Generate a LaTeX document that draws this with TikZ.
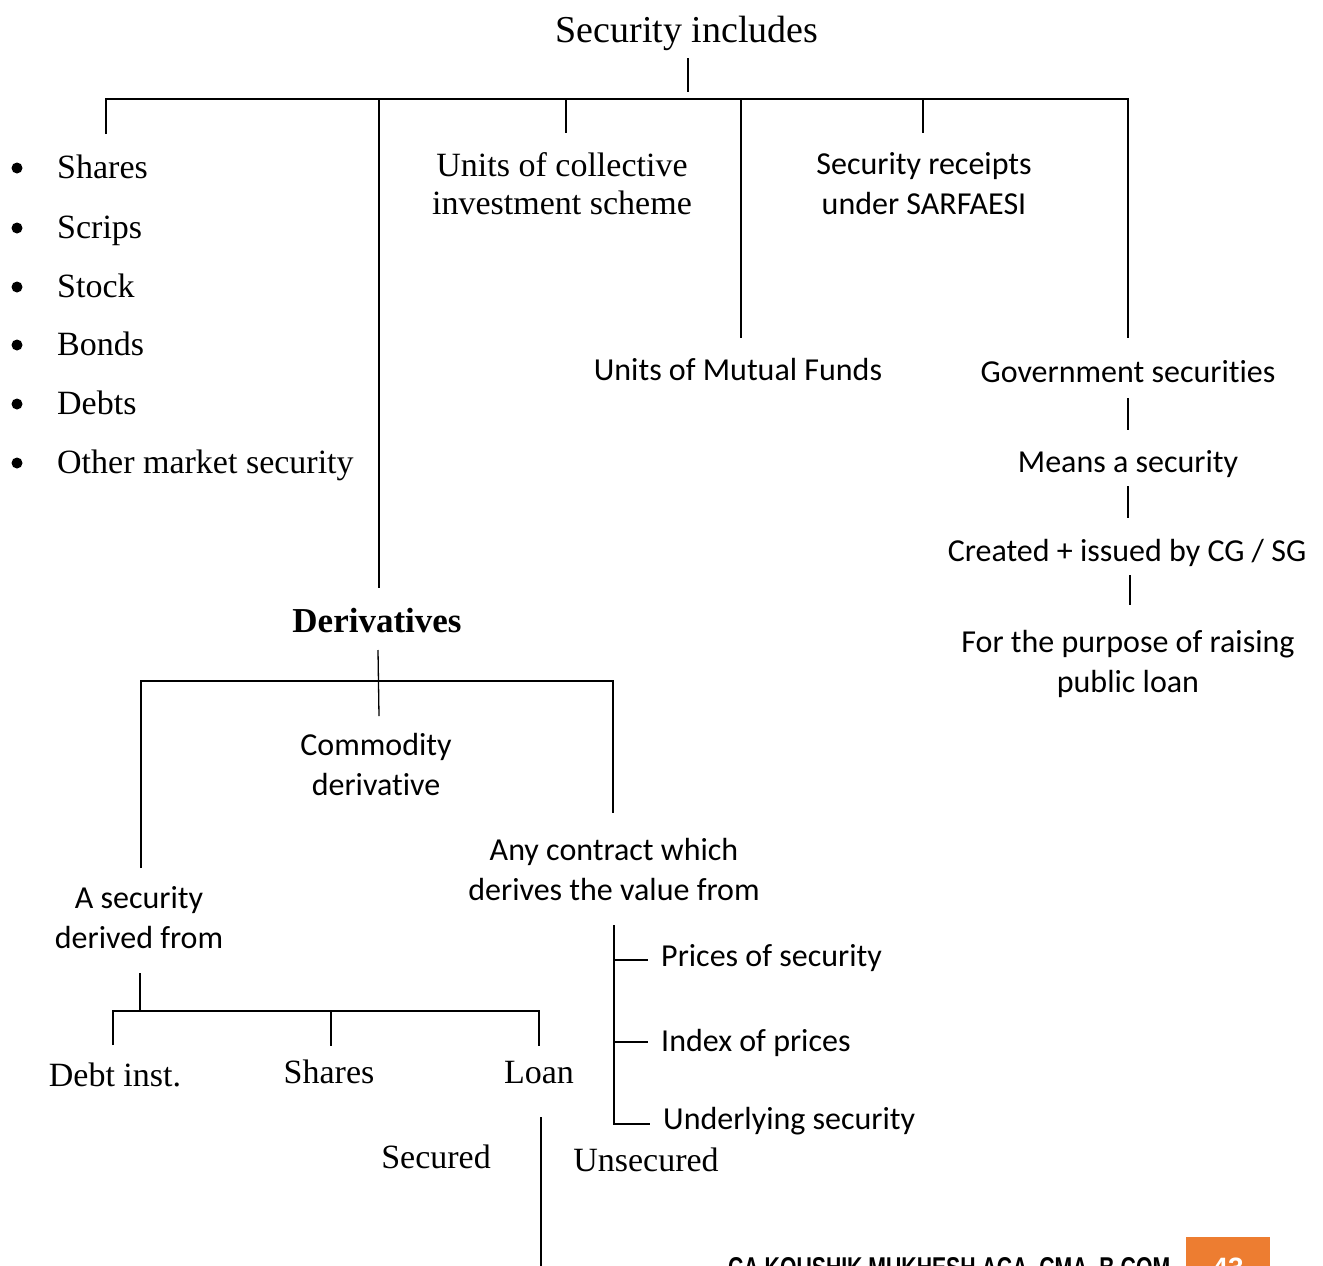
\documentclass[tikz,border=0pt]{standalone}
\usepackage{fontspec}
\usepackage{graphicx}
\setmainfont{Liberation Serif}
\newfontfamily\labelsans[Ligatures={NoCommon}]{Carlito}
\newfontfamily\footsans{Liberation Sans}
\definecolor{pageorange}{HTML}{ED7D31}

\begin{document}
\begin{tikzpicture}[x=1pt,y=-1pt,
  serifnode/.style={font=\fontsize{34}{38}\selectfont, inner sep=0pt, align=center},
  titlenode/.style={font=\fontsize{38}{44}\selectfont, inner sep=0pt},
  headnode/.style={font=\bfseries\fontsize{35}{40}\selectfont, inner sep=0pt},
  sansnode/.style={font=\labelsans\fontsize{32}{40}\selectfont, inner sep=0pt, align=center},
  link/.style={line width=1.8pt},
  thinlink/.style={line width=1.3pt},
  bulletdot/.style={circle, fill=black, inner sep=0pt, minimum size=11pt}]

\useasboundingbox (0,0) rectangle (1323,1266);

% ---------- top level ----------
\node[titlenode, anchor=base] (sec) at (687,42) {Security includes};

\coordinate (secstem) at (688,58);
\coordinate (secjoin) at (688,92);
\coordinate (barL) at (106,99);
\coordinate (barR) at (1128,99);
\coordinate (dropA) at (106,134);
\coordinate (barB) at (379,99);
\coordinate (dropB) at (379,588);
\coordinate (barC) at (566,99);
\coordinate (dropC) at (566,133);
\coordinate (barD) at (741,99);
\coordinate (dropD) at (741,338);
\coordinate (barE) at (923,99);
\coordinate (dropE) at (923,133);
\coordinate (dropF) at (1128,338);

\draw[thinlink] (secstem) -- (secjoin);
\draw[link] (dropA) -- (barL) -- (barR) -- (dropF);
\draw[link] (barB) -- (dropB);
\draw[link] (barC) -- (dropC);
\draw[link] (barD) -- (dropD);
\draw[link] (barE) -- (dropE);

% ---------- bullet list ----------
\foreach \name/\txt/\yy [count=\i] in {
    shares/Shares/178, scrips/Scrips/238, stock/Stock/297,
    bonds/Bonds/355, debts/Debts/414, other/Other market security/473} {
  \node[serifnode, anchor=base west] (\name) at (57,\yy) {\txt};
  \node[bulletdot] (dot\i) at (17,\yy-10) {};
}

% ---------- other branches ----------
\node[serifnode] (cis) at (562,183.5) {Units of collective\\investment scheme};
\node[sansnode] (sarf) at (924,183.5) {Security receipts\\under SARFAESI};
\node[sansnode, anchor=base] (mf) at (738,380) {Units of Mutual Funds};
\node[sansnode, anchor=base] (gov) at (1128,382) {Government securities};
\node[sansnode, anchor=base] (means) at (1128,472) {Means a security};
\node[sansnode, anchor=base] (created) at (1127,561) {Created + issued by CG / SG};
\node[sansnode] (purpose) at (1128,663.5) {For the purpose of raising\\public loan};

\coordinate (g1a) at (1128,398);
\coordinate (g1b) at (1128,430);
\coordinate (g2a) at (1128,486);
\coordinate (g2b) at (1128,518);
\coordinate (g3a) at (1130,575);
\coordinate (g3b) at (1130,605);
\draw[thinlink] (g1a) -- (g1b);
\draw[thinlink] (g2a) -- (g2b);
\draw[thinlink] (g3a) -- (g3b);

% ---------- derivatives ----------
\node[headnode, anchor=base] (deriv) at (377,632) {Derivatives};

\coordinate (dstemA) at (378,650);
\coordinate (dstemB) at (379,716);
\coordinate (dbarL) at (141,681);
\coordinate (dbarR) at (613,681);
\coordinate (ddropL) at (141,868);
\coordinate (ddropR) at (613,813);
\draw[thinlink] (dstemA) -- (dstemB);
\draw[link] (ddropL) -- (dbarL) -- (dbarR) -- (ddropR);

\node[sansnode] (commod) at (376,764.5) {Commodity\\derivative};
\node[sansnode] (contract) at (614,869) {Any contract which\\derives the value from};
\node[sansnode] (asec) at (139,918) {A security\\derived from};

% ---------- derived from ----------
\coordinate (astemA) at (140,973);
\coordinate (astemB) at (140,1011);
\coordinate (abarL) at (113,1011);
\coordinate (abarR) at (539,1011);
\coordinate (adropL) at (113,1045);
\coordinate (abarM) at (331,1011);
\coordinate (adropM) at (331,1046);
\coordinate (adropR) at (539,1046);
\draw[link] (astemA) -- (astemB);
\draw[link] (adropL) -- (abarL) -- (abarR) -- (adropR);
\draw[link] (abarM) -- (adropM);

\node[serifnode, anchor=base] (debt) at (115,1086) {Debt inst.};
\node[serifnode, anchor=base] (shr) at (329,1083) {Shares};
\node[serifnode, anchor=base] (loan) at (539,1083) {Loan};

\coordinate (lstemA) at (541,1117);
\coordinate (lstemB) at (541,1270);
\draw[link] (lstemA) -- (lstemB);
\node[serifnode, anchor=base] (secured) at (436,1168) {Secured};
\node[serifnode, anchor=base] (unsecured) at (646,1171) {Unsecured};

% ---------- value sources ----------
\coordinate (brTop) at (614,925);
\coordinate (brBot) at (614,1124);
\coordinate (t1a) at (614,960);
\coordinate (t1b) at (648,960);
\coordinate (t2a) at (614,1042);
\coordinate (t2b) at (648,1042);
\coordinate (t3b) at (650,1124);
\draw[link] (brTop) -- (brBot) -- (t3b);
\draw[link] (t1a) -- (t1b);
\draw[link] (t2a) -- (t2b);

\node[sansnode, anchor=base west] (prices) at (661,966) {Prices of security};
\node[sansnode, anchor=base west] (index) at (661,1051) {Index of prices};
\node[sansnode, anchor=base west] (underlying) at (663,1129) {Underlying security};

% ---------- page footer (runs past the page edge) ----------
\begin{scope}
  \clip (0,0) rectangle (1323,1266);
  \fill[pageorange] (1186,1237) rectangle (1270,1270);
  \node[inner sep=0pt, anchor=base west] (author) at (728,1277)
    {\resizebox{442pt}{20pt}{\footsans\bfseries CA KOUSHIK MUKHESH ACA, CMA, B.COM}};
  \node[inner sep=0pt, anchor=base, text=white] (pageno) at (1228,1277)
    {\footsans\bfseries\fontsize{28}{30}\selectfont 43};
\end{scope}

\end{tikzpicture}
\end{document}
